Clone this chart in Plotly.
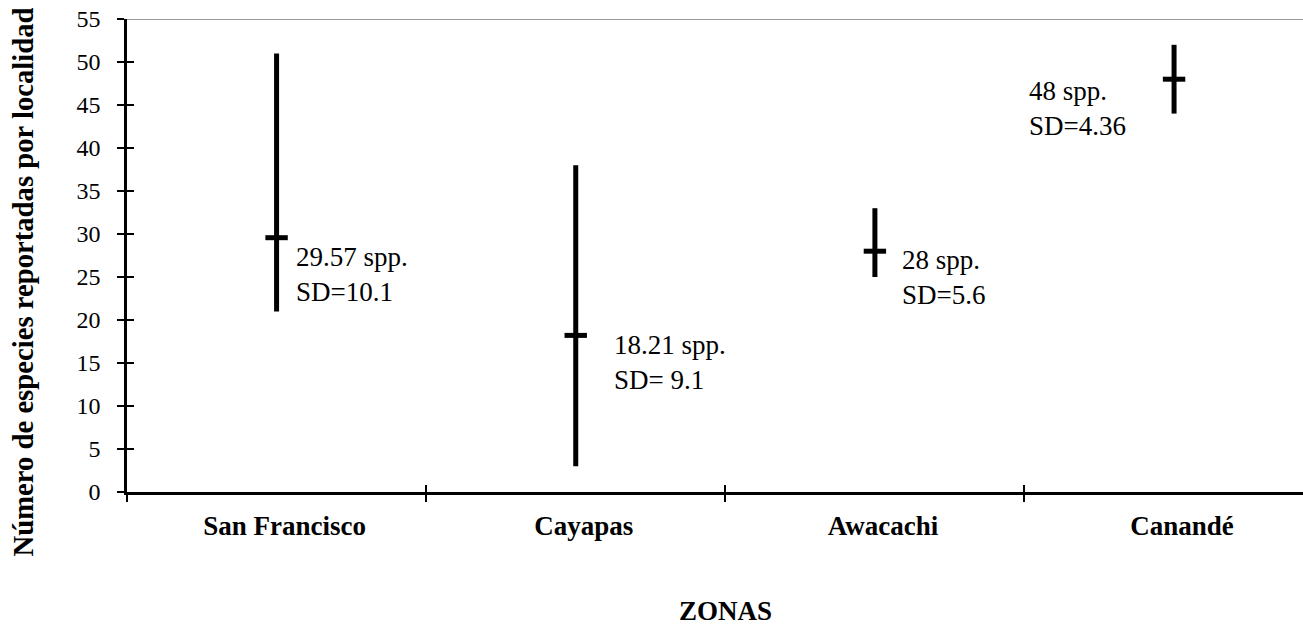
import plotly.graph_objects as go

# ---- data ----
zonas = ["San Francisco", "Cayapas", "Awacachi", "Canandé"]
maximo = [51, 38, 33, 52]
minimo = [21, 3, 25, 44]
media = [29.57, 18.21, 28, 48]
media_txt = ["29.57 spp.", "18.21 spp.", "28 spp.", "48 spp."]
sd_txt = ["SD=10.1", "SD= 9.1", "SD=5.6", "SD=4.36"]
y_ticks = [0, 5, 10, 15, 20, 25, 30, 35, 40, 45, 50, 55]

# label placement (styling, px offsets)
lab_dx = [17, 36, 25, -147]
lab_dy = [-37, -27, -26, -29]

FONT = "Liberation Serif, Times New Roman, Tinos, DejaVu Serif, serif"

fig = go.Figure()

# vertical high-low lines
for z, lo, hi in zip(zonas, minimo, maximo):
    fig.add_trace(go.Scatter(
        x=[z, z], y=[lo, hi], mode="lines",
        line=dict(color="black", width=5), showlegend=False, hoverinfo="skip"))

# mean ticks
fig.add_trace(go.Scatter(
    x=zonas, y=media, mode="markers",
    marker=dict(symbol="line-ew", size=16, line=dict(color="black", width=5)),
    showlegend=False, hoverinfo="skip"))

# dummy trace to draw the overlay axes (inside ticks that cross the axes)
fig.add_trace(go.Scatter(x=[None], y=[None], xaxis="x2", yaxis="y2",
                         showlegend=False, hoverinfo="skip"))

xr = [-0.5, 3.431]
yr = [0, 55]

fig.update_layout(
    width=1303, height=625,
    margin=dict(l=127, r=0, t=19, b=133),
    paper_bgcolor="white", plot_bgcolor="white",
    font=dict(family=FONT, color="black"),
    xaxis=dict(
        type="category", categoryorder="array", categoryarray=zonas,
        range=xr, tickson="boundaries", ticks="outside", ticklen=7,
        tickwidth=2, tickcolor="black", showline=True, linecolor="black",
        linewidth=2.5, showgrid=False, zeroline=False,
        tickfont=dict(family=FONT, size=27, weight="bold"),
        ticklabelstandoff=8, ticklabelshift=8,
    ),
    yaxis=dict(
        range=yr, tickmode="array", tickvals=y_ticks,
        ticks="outside", ticklen=7, tickwidth=2, tickcolor="black",
        showline=True, linecolor="black", linewidth=2.5,
        showgrid=False, zeroline=False,
        tickfont=dict(family=FONT, size=24, weight="normal"),
        ticklabelstandoff=12,
    ),
    xaxis2=dict(
        overlaying="x", anchor="y", range=xr,
        tickmode="array", tickvals=[-0.5, 0.5, 1.5, 2.5],
        ticks="inside", ticklen=7, tickwidth=2, tickcolor="black",
        showticklabels=False, showline=False, showgrid=False, zeroline=False,
    ),
    yaxis2=dict(
        overlaying="y", anchor="x", side="left", range=yr,
        tickmode="array", tickvals=y_ticks,
        ticks="inside", ticklen=7, tickwidth=2, tickcolor="black",
        showticklabels=False, showline=False, showgrid=False, zeroline=False,
    ),
    shapes=[dict(type="line", xref="paper", yref="y", x0=0, x1=1, y0=55, y1=55,
                 line=dict(color="#999999", width=2), layer="below")],
)

# value labels
for i, z in enumerate(zonas):
    fig.add_annotation(
        x=z, y=media[i], xref="x", yref="y",
        text=f"{media_txt[i]}<br>{sd_txt[i]}",
        showarrow=False, xanchor="left", yanchor="middle", align="left",
        xshift=lab_dx[i], yshift=lab_dy[i],
        font=dict(family=FONT, size=27, color="black", weight="normal"))

# axis titles
fig.add_annotation(
    text="Número de especies reportadas por localidad",
    xref="paper", yref="paper", x=0, y=0.5, xshift=-105, yshift=-27,
    xanchor="center", yanchor="middle",
    textangle=-90, showarrow=False,
    font=dict(family=FONT, size=28.7, weight="bold", color="black"))
fig.add_annotation(
    text="ZONAS", xref="x", yref="paper", x=1.5, y=0, yshift=-119,
    showarrow=False, yanchor="middle", xanchor="center",
    font=dict(family=FONT, size=27, weight="bold", color="black"))

fig.write_html("out.html")
